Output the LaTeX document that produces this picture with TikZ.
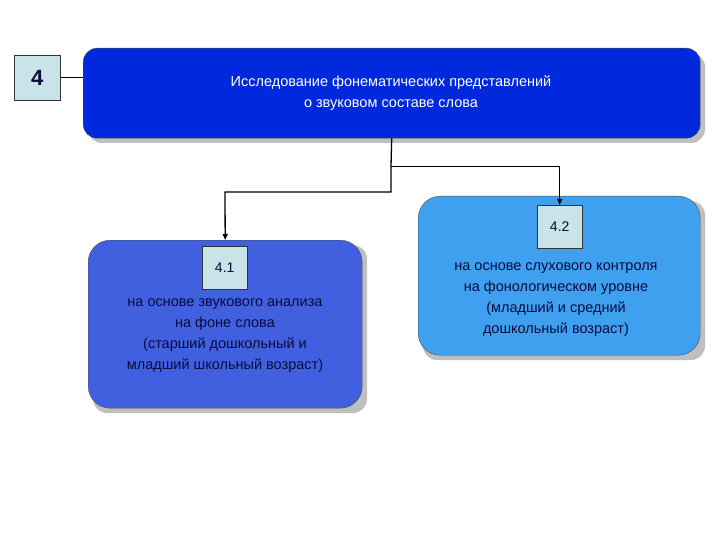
\documentclass[tikz,border=0pt]{standalone}
\usepackage{fontspec}
\setmainfont{Liberation Sans}
\usetikzlibrary{arrows.meta}
\definecolor{topb}{RGB}{0,40,220}
\definecolor{boxa}{RGB}{64,96,224}
\definecolor{boxb}{RGB}{64,160,240}
\definecolor{lbl}{RGB}{200,228,232}
\definecolor{txt}{RGB}{10,10,60}
\tikzset{
 rbox/.style={draw=black!70,line width=0.8pt,rounded corners=14pt,blur shadow/.try},
 shad/.style={fill=black!25,rounded corners=14pt},
 lab/.style={draw=black!80,fill=lbl,minimum width=45pt,minimum height=43pt,font=\fontsize{14}{16}\selectfont,text=txt},
 body/.style={align=center,font=\fontsize{14.5}{21}\selectfont,text=txt},
 conn/.style={draw=black,line width=1.3pt},
 arr/.style={-{Triangle[length=6pt,width=5pt]}}
}
\begin{document}
\begin{tikzpicture}[x=1pt,y=-1pt]
\useasboundingbox (0,0) rectangle (720,540);
% shadows
\fill[shad] (88,53) rectangle (705,143);
\fill[shad] (93,245) rectangle (367,413);
\fill[shad] (423,201) rectangle (705,360);
% boxes
\node[draw=black!70,fill=topb,rounded corners=14pt,minimum width=617pt,minimum height=90pt,anchor=north west] (top) at (83,48) {};
\node[align=center,text=white,font=\fontsize{14.5}{21}\selectfont] (toptxt) at (391,93) {Исследование фонематических представлений\\о звуковом составе слова};
\node[draw=black!70,fill=boxa,rounded corners=22pt,minimum width=274pt,minimum height=168pt,anchor=north west] (b1) at (88,240) {};
\node[draw=black!70,fill=boxb,rounded corners=22pt,minimum width=282pt,minimum height=159pt,anchor=north west] (b2) at (418,196) {};
\node[lab,anchor=north west] (l1) at (202,246) {4.1};
\node[lab,anchor=north west] (l2) at (537,205) {4.2};
\node[draw=black!80,fill=lbl,minimum width=46pt,minimum height=45pt,anchor=north west,font=\bfseries\fontsize{22}{24}\selectfont,text=txt] (l0) at (14,55) {4};
\node[body] (t1) at (225,336) {на основе звукового анализа\\на фоне слова\\(старший дошкольный и\\младший школьный возраст)};
\node[body] (t2) at (556,300) {на основе слухового контроля\\на фонологическом уровне\\(младший и средний\\дошкольный возраст)};
% connectors
\coordinate (j) at (391,166);
\draw[line width=0.8pt] (l0.east) -- ++(12,0) |- ([yshift=16pt]top.west);
\draw[conn] (top.south) -- (j);
\draw[conn,arr,line width=0.9pt] (j) -| (l2.north);
\draw[conn,arr] (j) |- (225,192) -- (b1.north);
\end{tikzpicture}
\end{document}
